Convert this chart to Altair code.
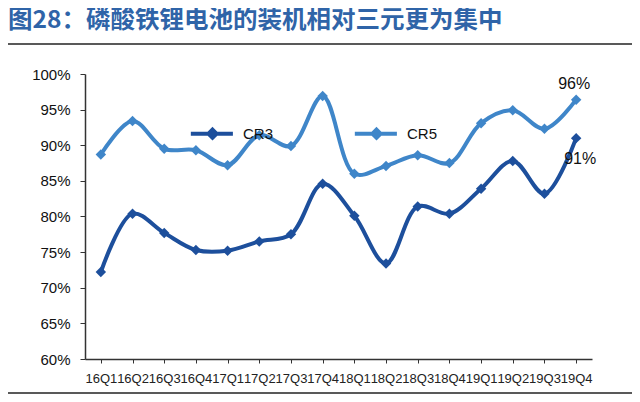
import altair as alt
import pandas as pd

quarters = ["16Q1", "16Q2", "16Q3", "16Q4", "17Q1", "17Q2", "17Q3", "17Q4",
            "18Q1", "18Q2", "18Q3", "18Q4", "19Q1", "19Q2", "19Q3", "19Q4"]
cr3 = [0.722, 0.804, 0.777, 0.753, 0.752, 0.765, 0.775, 0.846,
       0.801, 0.734, 0.814, 0.804, 0.839, 0.878, 0.832, 0.910]
cr5 = [0.887, 0.934, 0.895, 0.893, 0.872, 0.914, 0.899, 0.969,
       0.860, 0.871, 0.886, 0.875, 0.931, 0.949, 0.923, 0.964]
series = ["CR3", "CR5"]
colors = ["#1D4F9C", "#3F86C9"]
y_ticks = [0.6, 0.65, 0.7, 0.75, 0.8, 0.85, 0.9, 0.95, 1.0]
label_quarter = ["19Q4", "19Q4"]
label_series = ["CR5", "CR3"]
label_value = [0.964, 0.910]
label_text = ["96%", "91%"]

rows = []
for q, a, b in zip(quarters, cr3, cr5):
    rows.append({"q": q, "s": "CR3", "v": a})
    rows.append({"q": q, "s": "CR5", "v": b})
df = pd.DataFrame(rows)
lab = pd.DataFrame({"q": label_quarter, "s": label_series, "v": label_value, "t": label_text})

FONT = "Liberation Sans"

x_enc = alt.X("q:N", sort=quarters, title=None,
              scale=alt.Scale(paddingInner=0, paddingOuter=0),
              axis=alt.Axis(labelAngle=0, labelFontSize=13, labelColor="#222222",
                            labelFont=FONT, labelOverlap=False, labelPadding=9,
                            tickSize=4, tickColor="#333333", domainColor="#333333",
                            domainWidth=1.5, bandPosition=0, labelBound=False))
y_enc = alt.Y("v:Q", title=None,
              scale=alt.Scale(domain=[0.6, 1.0], nice=False, zero=False),
              axis=alt.Axis(format=".0%", values=y_ticks, tickCount=9,
                            labelFontSize=15, labelColor="#111111", labelFont=FONT,
                            labelOverlap=False, labelBound=False, labelFlush=False,
                            labelPadding=10, tickSize=5, tickColor="#333333",
                            domainColor="#333333", domainWidth=1.5, grid=False))
color_enc = alt.Color("s:N", scale=alt.Scale(domain=series, range=colors),
                      legend=alt.Legend(title=None, orient="none", legendX=100, legendY=32,
                                        direction="horizontal", labelFontSize=15,
                                        labelFont=FONT, labelColor="#111111",
                                        symbolType="M-0.85,0L0.8,0M0,-0.16L0.16,0L0,0.16L-0.16,0Z",
                                        symbolSize=2600, symbolStrokeWidth=4,
                                        columnPadding=72, labelOffset=3))

lines = alt.Chart(df).mark_line(interpolate="catmull-rom", strokeWidth=4).encode(
    x=x_enc, y=y_enc, color=color_enc)
points = alt.Chart(df).mark_point(shape="diamond", filled=True, size=110, opacity=1).encode(
    x=x_enc, y=y_enc, color=alt.Color("s:N", scale=alt.Scale(domain=series, range=colors), legend=None))
labels5 = alt.Chart(lab).transform_filter(alt.datum.s == "CR5").mark_text(
    fontSize=16, font=FONT, color="#111111", dy=-16, dx=-2).encode(
    x=x_enc, y=y_enc, text="t:N")
labels3 = alt.Chart(lab).transform_filter(alt.datum.s == "CR3").mark_text(
    fontSize=16, font=FONT, color="#111111", dy=21, dx=4).encode(
    x=x_enc, y=y_enc, text="t:N")
rules = alt.Chart(pd.DataFrame({"k": [0]})).mark_rule(color="#222222", strokeWidth=1.5).encode(
    x=alt.value(-77), x2=alt.value(547), y=alt.value(-30))
rules2 = alt.Chart(pd.DataFrame({"k": [0]})).mark_rule(color="#222222", strokeWidth=1.5).encode(
    x=alt.value(-77), x2=alt.value(547), y=alt.value(319))

chart = alt.layer(lines, points, labels5, labels3, rules, rules2).properties(
    width=507, height=285,
    autosize=alt.AutoSizeParams(type="none"),
    padding={"left": 77, "top": 66, "right": 40, "bottom": 35},
    title=alt.TitleParams("图28：磷酸铁锂电池的装机相对三元更为集中", anchor="start",
                          frame="group", dx=-77, offset=10, fontSize=24.5,
                          font="Noto Sans CJK SC", fontWeight="bold", color="#2F64A8"),
).configure_view(stroke=None)

chart.save("out.html", embed_options={"renderer": "svg", "actions": False})
